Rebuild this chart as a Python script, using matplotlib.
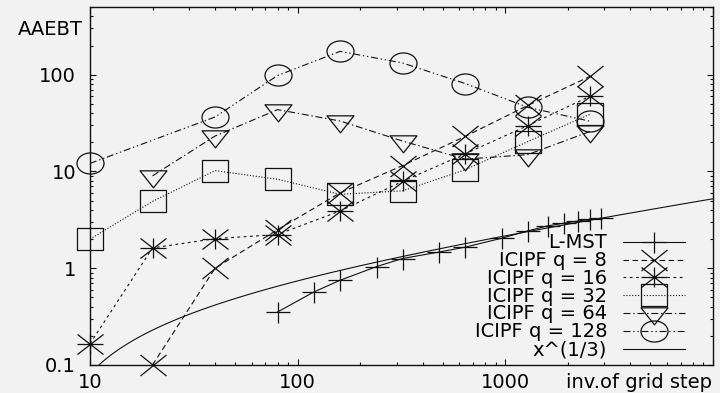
import numpy as np
import matplotlib
matplotlib.use("Agg")
import matplotlib.pyplot as plt
from matplotlib.path import Path
from matplotlib.ticker import LogLocator, NullFormatter

# data
x_lmst = [80, 120, 160, 240, 320, 480, 640, 960, 1280, 1600, 1920, 2240, 2560, 2880]
y_lmst = [0.353, 0.57, 0.75, 1.04, 1.26, 1.47, 1.65, 2.04, 2.43, 2.74, 2.92, 3.08, 3.2, 3.28]

x_q8 = [20, 40, 80, 160, 320, 640, 1280, 2560]
y_q8 = [0.1, 1.0, 2.5, 6.0, 11.5, 23, 48, 96]

x_q16 = [10, 20, 40, 80, 160, 320, 640, 1280, 2560]
y_q16 = [0.166, 1.62, 2.02, 2.23, 3.9, 7.9, 15.2, 29.7, 60]

x_q32 = [10, 20, 40, 80, 160, 320, 640, 1280, 2560]
y_q32 = [2.0, 4.9, 10.2, 8.3, 5.8, 6.3, 10.4, 20.3, 39]

x_q64 = [20, 40, 80, 160, 320, 640, 1280, 2560]
y_q64 = [9.0, 23.2, 43.5, 33.2, 20.6, 13.4, 14.9, 25.9]

x_q128 = [10, 40, 80, 160, 320, 640, 1280, 2560]
y_q128 = [12.1, 36.5, 98, 174, 132, 81, 46, 33]

# reference curve drawn as "x^(1/3)" (scaled/shifted as it appears)
cube_scale = 0.265
cube_shift = 0.49

BG = "#f2f2f2"
INK = "#111111"
PX = 0.72  # points per pixel at dpi 100


def seg_path(segs):
    verts, codes = [], []
    for seg in segs:
        verts.append(seg[0])
        codes.append(Path.MOVETO)
        for p in seg[1:]:
            verts.append(p)
            codes.append(Path.LINETO)
    return Path(verts, codes)


def closed_path(pts):
    verts = list(pts) + [pts[0]]
    codes = [Path.MOVETO] + [Path.LINETO] * (len(pts) - 1) + [Path.CLOSEPOLY]
    return Path(verts, codes)


m_plus = seg_path([[(-1, 0), (1, 0)], [(0, -0.875), (0, 0.875)]])
m_x = seg_path([[(-1, -0.81), (1, 0.81)], [(-1, 0.81), (1, -0.81)]])
m_star = seg_path([[(-1, -0.77), (1, 0.77)], [(-1, 0.77), (1, -0.77)],
                   [(-1, 0), (1, 0)], [(0, -0.77), (0, 0.77)]])
m_square = closed_path([(-1, -0.78), (1, -0.78), (1, 0.78), (-1, 0.78)])
m_tri = closed_path([(-1, 0.42), (1, 0.42), (0, -0.84)])
uc = Path.unit_circle()
m_circle = Path(uc.vertices * np.array([1.0, 0.78]), uc.codes)

plt.rcParams["font.family"] = ["DejaVu Sans"]
plt.rcParams["lines.scale_dashes"] = False

fig = plt.figure(figsize=(7.2, 3.93), dpi=100, facecolor=BG)
ax = fig.add_axes([90 / 720, 28 / 393, 623 / 720, 358 / 393], facecolor=BG)
ax.set_xscale("log")
ax.set_yscale("log")

common = dict(color=INK, linewidth=0.8, markerfacecolor="none",
              markeredgecolor=INK, markeredgewidth=0.9, clip_on=False)

ax.plot(x_lmst, y_lmst, linestyle="-", marker=m_plus, markersize=24 * PX,
        label="L-MST", **common)
ax.plot(x_q8, y_q8, linestyle=(0, (4, 2.5)), marker=m_x, markersize=26 * PX,
        label="ICIPF q = 8", **common)
ax.plot(x_q16, y_q16, linestyle=(0, (2, 2.5)), marker=m_star, markersize=26 * PX,
        label="ICIPF q = 16", **common)
ax.plot(x_q32, y_q32, linestyle=(0, (0.8, 1.3)), marker=m_square, markersize=27 * PX,
        label="ICIPF q = 32", **common)
ax.plot(x_q64, y_q64, linestyle=(0, (5, 2, 1, 2)), marker=m_tri, markersize=27 * PX,
        label="ICIPF q = 64", **common)
ax.plot(x_q128, y_q128, linestyle=(0, (5, 2, 1, 2, 1, 2)), marker=m_circle,
        markersize=27 * PX, label="ICIPF q = 128", **common)

xs = np.logspace(1, 4, 400)
ys = cube_scale * np.cbrt(xs) - cube_shift
ax.plot(xs, ys, color=INK, linewidth=0.8, label="x^(1/3)")

ax.set_xlim(10, 10000)
ax.set_ylim(0.1, 500)

ax.set_xticks([10, 100, 1000, 10000])
ax.set_xticklabels(["10", "100", "1000", ""])
ax.set_yticks([0.1, 1, 10, 100])
ax.set_yticklabels(["0.1", "1", "10", "100"])
for axis in (ax.xaxis, ax.yaxis):
    axis.set_minor_locator(LogLocator(base=10, subs=np.arange(2, 10)))
    axis.set_minor_formatter(NullFormatter())

ax.tick_params(which="both", direction="in", top=True, right=True,
               width=0.8, colors=INK, labelsize=14, labelcolor="black")
ax.tick_params(which="major", length=4.5)
ax.tick_params(which="minor", length=2.3)
ax.tick_params(axis="y", pad=10)
ax.tick_params(axis="x", pad=5.5)
for sp in ax.spines.values():
    sp.set_linewidth(1.0)
    sp.set_color(INK)

fig.text(83 / 720, 1 - 35 / 393, "AAEBT", ha="right", va="baseline", fontsize=14)
fig.text(712 / 720, 1 - 388 / 393, "inv.of grid step", ha="right",
         va="baseline", fontsize=14)

ax.legend(loc="lower right", bbox_to_anchor=(685 / 720, 1 - 359 / 393),
          bbox_transform=fig.transFigure, frameon=False, markerfirst=False,
          numpoints=1, handlelength=3.2, handletextpad=0.8, labelspacing=-0.06,
          borderpad=0, borderaxespad=0, fontsize=14, handleheight=0.5)

fig.savefig("out.png", dpi=100, facecolor=BG)
